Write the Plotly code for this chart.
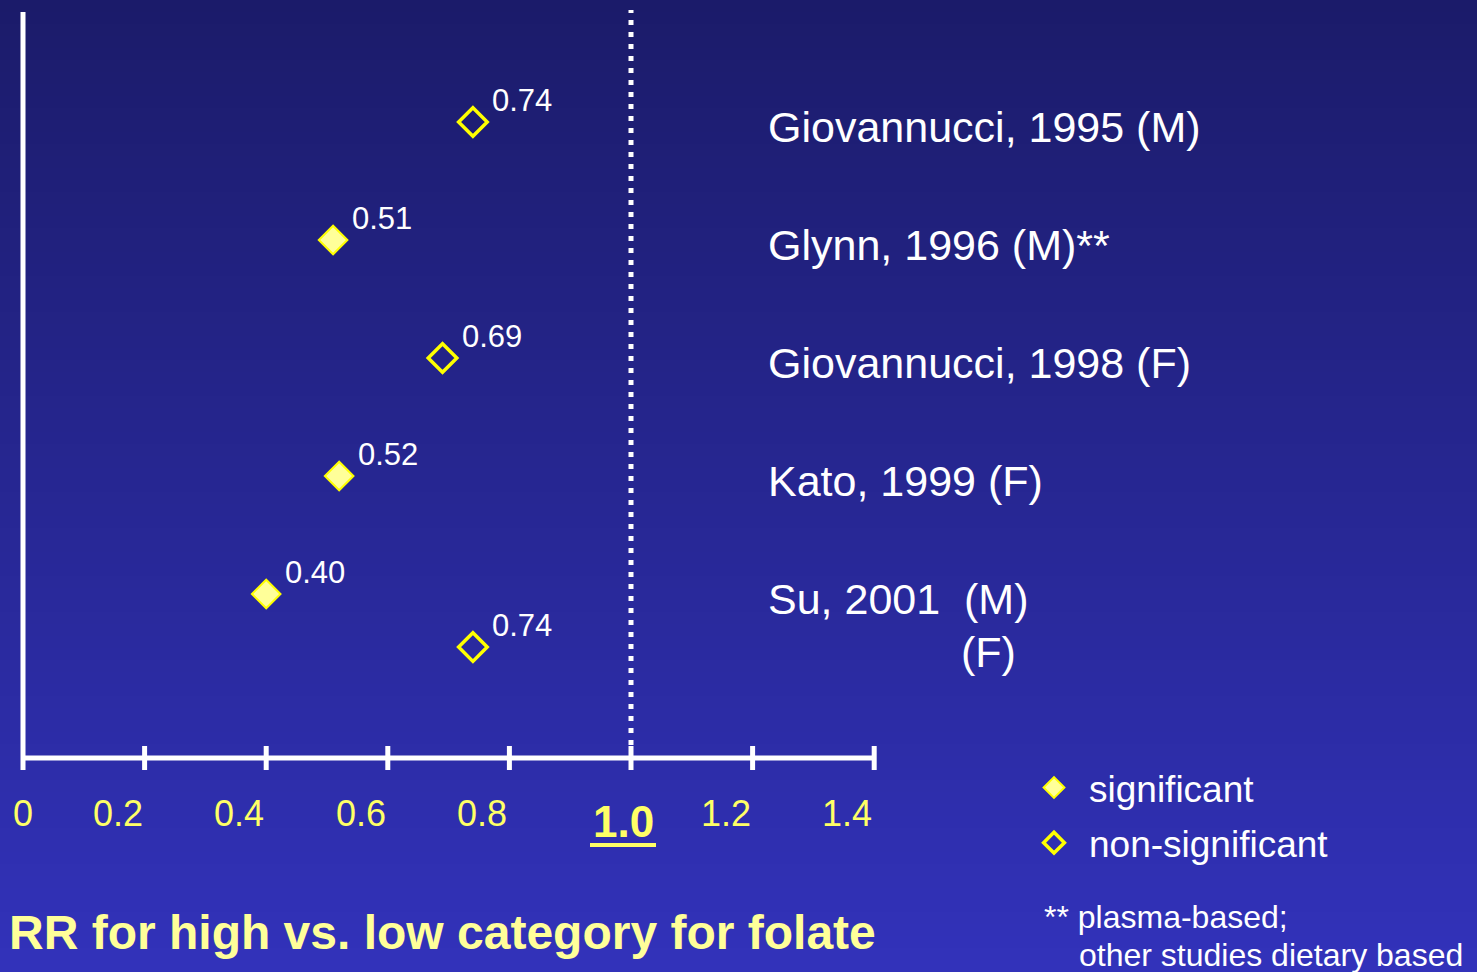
import plotly.graph_objects as go

W, H = 1477, 972

# ---------------- data ----------------
authors = ["Giovannucci", "Glynn", "Giovannucci", "Kato", "Su", "Su"]
years = [1995, 1996, 1998, 1999, 2001, 2001]
sexes = ["M", "M", "F", "F", "M", "F"]
notes = ["", "**", "", "", "", ""]
rr = [0.74, 0.51, 0.69, 0.52, 0.40, 0.74]
significant = [False, True, False, True, True, False]
rows = [1, 2, 3, 4, 5, 5.45]

tick_vals = [0, 0.2, 0.4, 0.6, 0.8, 1.0, 1.2, 1.4]
tick_text = ["0", "0.2", "0.4", "0.6", "0.8", "1.0", "1.2", "1.4"]
ref_value = 1.0
legend_names = ["significant", "non-significant"]
x_title = "RR for high vs. low category for folate"
footnote_lines = ["** plasma-based;", "other studies dietary based"]

# ---------------- layout helpers ----------------
FONT = "Liberation Sans, Arial, sans-serif"
ORIGIN_PX = 23          # pixel of x = 0
UNIT_PX = 608           # pixels per 1.0 of RR
ROW0_PX, ROW_PX = 122, 118

x0 = -ORIGIN_PX / UNIT_PX
x_range = [x0, x0 + W / UNIT_PX]
y_top = 1 - ROW0_PX / ROW_PX
y_bot = 1 + (H - ROW0_PX) / ROW_PX
y_range = [y_bot, y_top]


def py(p):  # pixel y -> paper y
    return 1 - p / H


def px(p):  # pixel x -> paper x
    return p / W


fig = go.Figure()

sig_x = [v for v, s in zip(rr, significant) if s]
sig_y = [r for r, s in zip(rows, significant) if s]
ns_x = [v for v, s in zip(rr, significant) if not s]
ns_y = [r for r, s in zip(rows, significant) if not s]

fig.add_trace(go.Scatter(
    x=sig_x, y=sig_y, mode="markers", name=legend_names[0], legendgroup="a",
    marker=dict(symbol="diamond", size=22, color="#ffff99",
                line=dict(color="#ffff00", width=2)),
    hoverinfo="x"))
fig.add_trace(go.Scatter(
    x=ns_x, y=ns_y, mode="markers", name=legend_names[1], legendgroup="b",
    marker=dict(symbol="diamond-open", size=22, color="#ffff00",
                line=dict(color="#ffff00", width=3.5)),
    hoverinfo="x"))

shapes = []
# background gradient
top_c = (27, 27, 106)
bot_c = (50, 50, 186)
n_bands = 81
for i in range(n_bands):
    t = (i + 0.5) / n_bands
    c = tuple(round(a + (b - a) * t) for a, b in zip(top_c, bot_c))
    shapes.append(dict(type="rect", xref="paper", yref="paper",
                       x0=0, x1=1, y0=1 - (i + 1.05) / n_bands, y1=1 - i / n_bands,
                       fillcolor="rgb(%d,%d,%d)" % c, line=dict(width=0), layer="below"))

AXIS_Y_PX = 758
# vertical axis line
shapes.append(dict(type="line", xref="x", yref="paper", x0=0, x1=0,
                   y0=py(770), y1=py(12), line=dict(color="white", width=5)))
# horizontal axis line
shapes.append(dict(type="line", xref="x", yref="paper", x0=0, x1=tick_vals[-1],
                   y0=py(AXIS_Y_PX), y1=py(AXIS_Y_PX), line=dict(color="white", width=5)))
# tick marks crossing the axis
for v in tick_vals[1:]:
    shapes.append(dict(type="line", xref="x", yref="paper", x0=v, x1=v,
                       y0=py(770), y1=py(746), line=dict(color="white", width=5)))
# dotted reference line
shapes.append(dict(type="line", xref="x", yref="paper", x0=ref_value, x1=ref_value,
                   y0=py(745), y1=py(10), line=dict(color="white", width=5, dash="5px,7px")))
# underline of the 1.0 label
shapes.append(dict(type="rect", xref="x", yref="paper", xsizemode="pixel",
                   xanchor=ref_value, x0=-41, x1=25, y0=py(847), y1=py(843),
                   fillcolor="#ffff66", line=dict(width=0)))

annotations = []
# tick labels
for v, t in zip(tick_vals, tick_text):
    if v == ref_value:
        annotations.append(dict(x=v, y=py(821), xref="x", yref="paper", text="<b>%s</b>" % t,
                                showarrow=False, xshift=-8, yanchor="middle",
                                font=dict(family=FONT, size=44, color="#ffff66")))
    else:
        annotations.append(dict(x=v, y=py(813), xref="x", yref="paper", text=t,
                                showarrow=False, xshift=0 if v == 0 else -27,
                                yanchor="middle",
                                font=dict(family=FONT, size=36, color="#ffff66")))

# value labels
for v, r in zip(rr, rows):
    annotations.append(dict(x=v, y=r, xref="x", yref="y", text="%.2f" % v,
                            showarrow=False, xanchor="left", yanchor="middle",
                            xshift=17, yshift=22,
                            font=dict(family=FONT, size=31, color="white")))

# study labels
for i in range(len(rows)):
    key = (authors[i], years[i])
    prev_same = i > 0 and (authors[i - 1], years[i - 1]) == key
    next_same = i + 1 < len(rows) and (authors[i + 1], years[i + 1]) == key
    if prev_same:
        text, shift = "(%s)" % sexes[i], 190
    elif next_same:
        text, shift = "%s, %d\u00a0\u00a0(%s)%s" % (authors[i], years[i], sexes[i], notes[i]), -3
    else:
        text, shift = "%s, %d (%s)%s" % (authors[i], years[i], sexes[i], notes[i]), -3
    annotations.append(dict(x=px(769), y=rows[i], xref="paper", yref="y", text=text,
                            showarrow=False, xanchor="left", yanchor="middle",
                            xshift=shift, yshift=-5,
                            font=dict(family=FONT, size=43, color="white")))

# x-axis title
annotations.append(dict(x=px(7), y=py(932), xref="paper", yref="paper",
                        text="<b>%s</b>" % x_title, showarrow=False,
                        xanchor="left", yanchor="middle",
                        font=dict(family=FONT, size=48, color="#ffff99")))
# footnote
annotations.append(dict(x=px(1042), y=py(917), xref="paper", yref="paper",
                        text=footnote_lines[0], showarrow=False,
                        xanchor="left", yanchor="middle",
                        font=dict(family=FONT, size=32, color="white")))
annotations.append(dict(x=px(1077), y=py(955), xref="paper", yref="paper",
                        text=footnote_lines[1], showarrow=False,
                        xanchor="left", yanchor="middle",
                        font=dict(family=FONT, size=32, color="white")))

fig.update_layout(
    width=W, height=H,
    margin=dict(l=0, r=0, t=0, b=0),
    paper_bgcolor="rgb(38,38,146)",
    plot_bgcolor="rgba(0,0,0,0)",
    xaxis=dict(range=x_range, visible=False, fixedrange=True),
    yaxis=dict(range=y_range, visible=False, fixedrange=True),
    shapes=shapes,
    annotations=annotations,
    showlegend=True,
    legend=dict(x=px(1019), y=py(757), xanchor="left", yanchor="top",
                font=dict(family=FONT, size=37, color="white"),
                bgcolor="rgba(0,0,0,0)", tracegroupgap=4, itemwidth=60,
                itemsizing="trace"),
)

fig.write_html("out.html", config={"displayModeBar": False})
